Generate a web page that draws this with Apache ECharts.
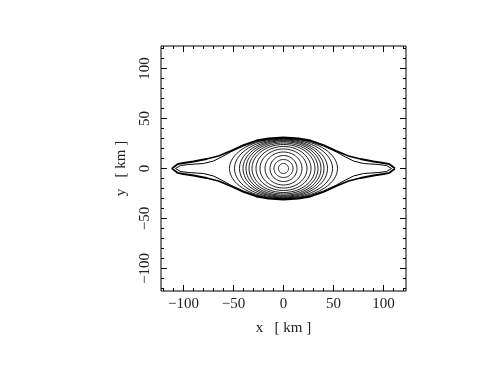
<!DOCTYPE html>
<html>
<head>
<meta charset="utf-8">
<script src="https://cdn.jsdelivr.net/npm/echarts@6/dist/echarts.min.js"></script>
<style>
  html, body { margin: 0; padding: 0; background: #fff; }
  #chart { width: 494px; height: 382px; }
</style>
</head>
<body>
<div id="chart"></div>
<script>
// axis range and ticks (km)
const axisMin = -122.5
const axisMax = 122.5
const majorTicks = [-100, -50, 0, 50, 100]
const minorTicks = [-120, -110, -90, -80, -70, -60, -40, -30, -20, -10,
  10, 20, 30, 40, 60, 70, 80, 90, 110, 120]

// central contours: horizontal and vertical semi-axes (km)
const ringA = [5, 9.5, 13.5, 18.5, 23.5, 27.5, 31.5, 34.5, 37.5, 40.5, 44, 49, 54]
const ringB = [5, 9, 13, 16.5, 19.5, 22, 24, 25.5, 26.8, 27.8, 28.6, 29.3, 30]

// outer lens contours, upper-right quadrant (x, y in km), symmetric about both axes
const outerLens = [[0, 31], [15, 30.2], [27, 28], [40, 23.5], [53, 17.5], [65, 12.5],
  [77, 9.5], [90, 7], [100, 5.5], [106, 4.3], [111.5, 0]]
const innerLens = [[0, 30.3], [15, 29.4], [27, 27], [40, 22.5], [53, 16.5], [62, 11.5],
  [70, 7.5], [80, 5], [95, 4], [103, 3], [108, 0]]

const fullLoop = (q) => {
  const pts = q.slice().reverse()
  q.slice(1).forEach((p) => pts.push([-p[0], p[1]]))
  q.slice().reverse().slice(1).forEach((p) => pts.push([-p[0], -p[1]]))
  q.slice(1).forEach((p) => pts.push([p[0], -p[1]]))
  return pts
}

const minus = (v) => String(v).replace('-', '\u2212')
const font = { fontFamily: 'Liberation Serif', fontSize: 15, color: '#222' }

const makeAxis = (position, major, withLabels, extra) => ({
  type: 'value',
  position: position,
  min: axisMin,
  max: axisMax,
  axisLine: { show: false, onZero: false },
  splitLine: { show: false },
  axisTick: {
    show: true,
    inside: true,
    length: major ? 6 : 3,
    customValues: major ? majorTicks : minorTicks,
    lineStyle: { color: '#000', width: 1 },
  },
  axisLabel: {
    show: withLabels,
    customValues: majorTicks,
    formatter: minus,
    ...font,
    ...(extra || {}),
  },
})

const xName = {
  name: 'x   [ km ]',
  nameLocation: 'middle',
  nameGap: 30,
  nameTextStyle: font,
}
const yName = {
  name: 'y   [ km ]',
  nameLocation: 'middle',
  nameRotate: 90,
  nameGap: 32,
  nameTextStyle: font,
}

const chart = echarts.init(document.getElementById('chart'))
chart.setOption({
  animation: false,
  grid: {
    left: 161,
    top: 46,
    width: 245,
    height: 245,
    show: true,
    borderColor: '#000',
    borderWidth: 1,
    outerBoundsMode: 'none',
  },
  xAxis: [
    { ...makeAxis('bottom', true, true, { margin: 6 }), ...xName },
    makeAxis('bottom', false, false),
    makeAxis('top', true, false),
    makeAxis('top', false, false),
  ],
  yAxis: [
    { ...makeAxis('left', true, true, { rotate: 90, margin: 8 }), ...yName },
    makeAxis('left', false, false),
    makeAxis('right', true, false),
    makeAxis('right', false, false),
  ],
  series: [
    {
      type: 'custom',
      coordinateSystem: 'cartesian2d',
      data: ringA.map((a, i) => [a, ringB[i]]),
      renderItem: (params, api) => {
        const a = api.value(0)
        const b = api.value(1)
        const points = []
        for (let k = 0; k <= 72; k++) {
          const t = (k / 72) * 2 * Math.PI
          points.push(api.coord([a * Math.cos(t), b * Math.sin(t)]))
        }
        return {
          type: 'polyline',
          shape: { points },
          style: { fill: 'none', stroke: '#000', lineWidth: 0.9 },
        }
      },
    },
    {
      type: 'line',
      data: fullLoop(outerLens),
      showSymbol: false,
      lineStyle: { color: '#000', width: 1.8 },
    },
    {
      type: 'line',
      data: fullLoop(innerLens),
      showSymbol: false,
      lineStyle: { color: '#000', width: 1 },
    },
  ],
})
</script>
</body>
</html>
